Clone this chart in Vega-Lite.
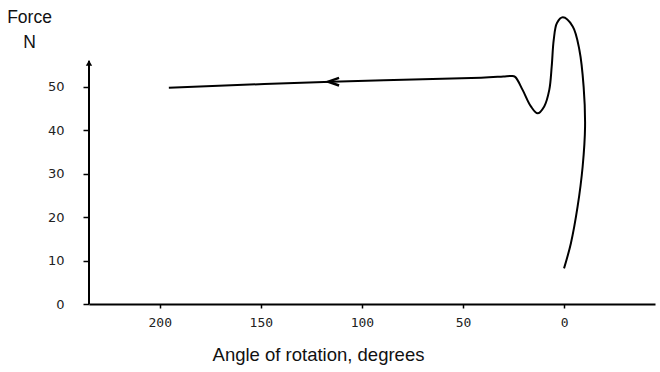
{
  "$schema": "https://vega.github.io/schema/vega-lite/v6.json",
  "width": 566,
  "height": 304,
  "autosize": "none",
  "padding": {"left": 89, "top": 0, "right": 5, "bottom": 68},
  "background": "white",
  "config": {"view": {"stroke": null}, "font": "Liberation Sans"},
  "datasets": {
    "curve": [
      {"i": 1, "angle": 0, "force": 8.2},
      {"i": 2, "angle": -3.4, "force": 14},
      {"i": 3, "angle": -6.7, "force": 22.4},
      {"i": 4, "angle": -9.2, "force": 31.6},
      {"i": 5, "angle": -10.4, "force": 40.9},
      {"i": 6, "angle": -9.7, "force": 50},
      {"i": 7, "angle": -7.6, "force": 58.5},
      {"i": 8, "angle": -4.3, "force": 63.9},
      {"i": 9, "angle": 0.6, "force": 66},
      {"i": 10, "angle": 3.5, "force": 64.7},
      {"i": 11, "angle": 5.1, "force": 60.8},
      {"i": 12, "angle": 6.1, "force": 54.7},
      {"i": 13, "angle": 7.3, "force": 49.3},
      {"i": 14, "angle": 9.8, "force": 45.5},
      {"i": 15, "angle": 13.1, "force": 43.9},
      {"i": 16, "angle": 16.4, "force": 45.5},
      {"i": 17, "angle": 20.5, "force": 49.3},
      {"i": 18, "angle": 24.2, "force": 52.3},
      {"i": 19, "angle": 26, "force": 52.5},
      {"i": 20, "angle": 30, "force": 52.4},
      {"i": 21, "angle": 41, "force": 52.1},
      {"i": 22, "angle": 115, "force": 51.2},
      {"i": 23, "angle": 195.5, "force": 49.8}
    ],
    "arrow": [{"angle": 114, "force": 51.2}],
    "yaxis": [{"angle": 235, "f0": 0, "f1": 56}],
    "yarrow": [{"angle": 235, "force": 55.5}]
  },
  "layer": [
    {
      "data": {"name": "yaxis"},
      "mark": {"type": "rule", "color": "black", "strokeWidth": 2},
      "encoding": {
        "x": {"field": "angle", "type": "quantitative", "scale": {"domain": [-45, 235], "reverse": true, "nice": false, "zero": false},
          "axis": {"values": [0, 50, 100, 150, 200], "title": "Angle of rotation, degrees", "grid": false,
            "domainColor": "black", "domainWidth": 2, "tickColor": "black", "tickSize": 4, "tickWidth": 1.5,
            "labelFont": "DejaVu Sans Mono", "labelFontSize": 13, "labelColor": "#222", "labelPadding": 8,
            "titleFont": "Liberation Sans", "titleFontSize": 18.5, "titleFontWeight": "normal", "titleColor": "#111",
            "titleX": 229, "titlePadding": 16}},
        "y": {"field": "f0", "type": "quantitative", "scale": {"domain": [0, 70], "nice": false},
          "axis": {"values": [0, 10, 20, 30, 40, 50], "domain": false, "grid": false,
            "tickColor": "black", "tickSize": 6, "tickWidth": 1.5,
            "labelFont": "DejaVu Sans", "labelFontSize": 13, "labelColor": "#222", "labelPadding": 19,
            "title": ["Force", "N"], "titleAngle": 0, "titleX": -60, "titleY": 17, "titleAlign": "center",
            "titleBaseline": "middle", "titleFont": "Liberation Sans", "titleFontSize": 17.5, "titleFontWeight": "normal",
            "titleColor": "#111", "titleLineHeight": 25}},
        "y2": {"field": "f1"}
      }
    },
    {
      "data": {"name": "yarrow"},
      "mark": {"type": "point", "shape": "triangle-up", "filled": true, "color": "black", "size": 40, "opacity": 1},
      "encoding": {
        "x": {"field": "angle", "type": "quantitative"},
        "y": {"field": "force", "type": "quantitative"}
      }
    },
    {
      "data": {"name": "curve"},
      "mark": {"type": "line", "color": "black", "strokeWidth": 2, "interpolate": "catmull-rom"},
      "encoding": {
        "x": {"field": "angle", "type": "quantitative"},
        "y": {"field": "force", "type": "quantitative"},
        "order": {"field": "i", "type": "quantitative"}
      }
    },
    {
      "data": {"name": "arrow"},
      "mark": {"type": "point", "shape": "M1,-0.7 L-1,0 L1,0.7", "filled": false, "color": "black", "strokeWidth": 2.5, "size": 120, "opacity": 1},
      "encoding": {
        "x": {"field": "angle", "type": "quantitative"},
        "y": {"field": "force", "type": "quantitative"}
      }
    }
  ]
}
